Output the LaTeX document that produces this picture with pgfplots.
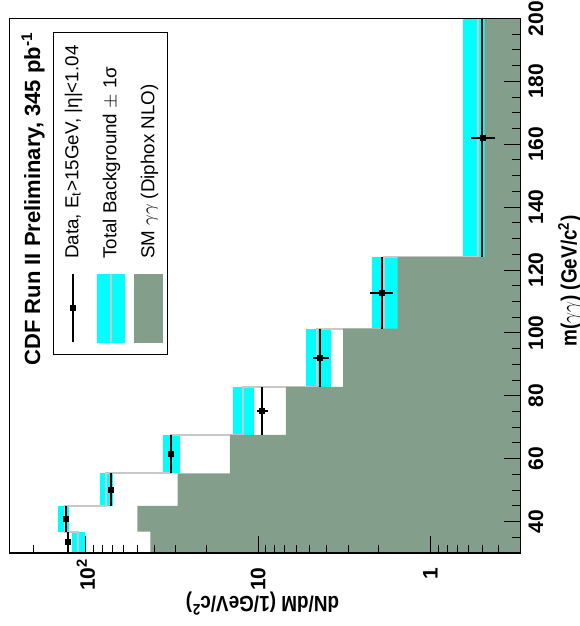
\documentclass[border=0pt]{standalone}
\usepackage{graphicx}
\usepackage{pgfplots}
\pgfplotsset{compat=1.18}
\usepackage{fontspec}
\setmainfont{Liberation Sans}

\definecolor{bandcyan}{RGB}{0,255,255}
\definecolor{smgreen}{RGB}{131,159,140}
\definecolor{bkgline}{RGB}{200,200,200}

% legend key: sample box 34pt wide, 19pt tall, with its caption beside it
\newcommand{\keytext}[1]{%
  \path[draw=none, fill=none] (0pt,-9.5pt) rectangle (34pt,9.5pt);
  \node[anchor=base west, inner sep=0pt, draw=none] at (41.5pt,-2.8pt) {#1};}

\begin{document}
\rotatebox{90}{%
\begin{tikzpicture}
\useasboundingbox (-36.5pt,-29.65pt) rectangle (276.5pt,260.25pt);
\begin{axis}[
  scale only axis, width=267.25pt, height=255.5pt,
  xmin=30, xmax=200,
  ymode=log, ymin=0.3, ymax=277,
  axis on top,
  axis line style={line width=0.75pt},
  tick pos=left, tick align=inside,
  every tick/.style={black, line width=0.5pt},
  major tick length=8.3pt, minor tick length=4.2pt,
  xtick={40,60,...,200},
  minor xtick={35,40,...,195},
  ytick={1,10,100},
  yticklabels={1,10,10\rlap{\textsuperscript{2}}},
  minor ytick={0.3,0.4,0.5,0.6,0.7,0.8,0.9,2,3,4,5,6,7,8,9,20,30,40,50,60,70,80,90,200},
  /pgf/number format/assume math mode=true,
  tick label style={font=\bfseries\fontsize{10.5}{12}\selectfont},
  xticklabel style={inner sep=0pt, anchor=north, yshift=-3.75pt},
  yticklabel style={inner sep=0pt, anchor=east, xshift=-7pt},
  xlabel={\scalebox{0.86}[1]{m($\gamma\gamma$) (GeV/c\textsuperscript{2})}},
  ylabel={\scalebox{0.86}[1]{dN/dM (1/GeV/c\textsuperscript{2})}},
  label style={font=\bfseries\fontsize{11}{13}\selectfont},
  xlabel style={at={(axis description cs:0.509,-0.110)}, anchor=base},
  ylabel style={at={(axis description cs:-0.0823,0.505)}, anchor=base},
  legend cell align=left,
  legend style={at={(rel axis cs:0.9742,0.9143)}, anchor=north east,
    draw=black, line width=0.5pt, inner xsep=5.35pt, inner ysep=0pt,
    font=\fontsize{9.4}{11}\selectfont, row sep=0pt, column sep=0pt,
    nodes={inner sep=0pt}},
]
% legend entries
\addlegendimage{legend image code/.code={
  \keytext{Data, E\textsubscript{t}>15GeV, |η|<1.04}
  \draw[black, line width=1pt] (0pt,0pt) -- (34pt,0pt);
  \fill[black] (15.75pt,-1.25pt) rectangle (18.25pt,1.25pt);}}
\addlegendentry{\relax}
\addlegendimage{legend image code/.code={
  \keytext{Total Background $\pm$ 1σ}
  \fill[bandcyan] (0pt,-6.75pt) rectangle (34pt,6.75pt);
  \draw[bkgline, line width=0.8pt] (0pt,0pt) -- (34pt,0pt);}}
\addlegendentry{\relax}
\addlegendimage{legend image code/.code={
  \keytext{SM $\gamma\gamma$ (Diphox NLO)}
  \fill[smgreen] (0pt,-7pt) rectangle (34pt,7pt);}}
\addlegendentry{\relax}

% total background +/- 1 sigma band, one box per bin
\addplot[forget plot, fill=bandcyan, draw=none] coordinates {(30,101.2) (36.8,101.2) (36.8,120) (30,120)} -- cycle;
\addplot[forget plot, fill=bandcyan, draw=none] coordinates {(36.8,124.9) (45,124.9) (45,144.5) (36.8,144.5)} -- cycle;
\addplot[forget plot, fill=bandcyan, draw=none] coordinates {(45,69.6) (55.3,69.6) (55.3,82.8) (45,82.8)} -- cycle;
\addplot[forget plot, fill=bandcyan, draw=none] coordinates {(55.3,28.5) (67.6,28.5) (67.6,35.6) (55.3,35.6)} -- cycle;
\addplot[forget plot, fill=bandcyan, draw=none] coordinates {(67.6,10.6) (82.8,10.6) (82.8,14.0) (67.6,14.0)} -- cycle;
\addplot[forget plot, fill=bandcyan, draw=none] coordinates {(82.8,3.75) (101.4,3.75) (101.4,5.28) (82.8,5.28)} -- cycle;
\addplot[forget plot, fill=bandcyan, draw=none] coordinates {(101.4,1.55) (124.1,1.55) (124.1,2.19) (101.4,2.19)} -- cycle;
\addplot[forget plot, fill=bandcyan, draw=none] coordinates {(124.1,0.484) (200,0.484) (200,0.647) (124.1,0.647)} -- cycle;

% total background, central value
\addplot[forget plot, const plot, bkgline, line width=1pt] coordinates {
  (30,110.7) (36.8,132.2) (45,76.0) (55.3,31.8) (67.6,12.3)
  (82.8,4.58) (101.4,1.86) (124.1,0.53) (200,0.53)};

% SM diphoton (Diphox NLO)
\addplot[forget plot, const plot, fill=smgreen, draw=none] coordinates {
  (30,0.3) (30,42.1) (36.8,50.1) (45,29.3) (55.3,14.6) (67.6,6.9)
  (82.8,3.21) (101.4,1.55) (124.1,0.484) (200,0.484) (200,0.3)} -- cycle;

% data
\addplot[forget plot, black, only marks, mark=square*, mark size=1.25pt,
  error bars/.cd, x dir=both, x explicit, y dir=both, y explicit,
  error mark=none, error bar style={line width=1pt, black}]
  coordinates {
  (33.4,126.5) +- (3.4,3.8)
  (40.9,130.4) +- (4.1,3.9)
  (50.15,71.5) +- (5.15,2.5)
  (61.45,32.2) +- (6.15,1.3)
  (75.2,9.48) += (7.6,0.72) -= (7.6,0.73)
  (92.1,4.35) += (9.3,0.48) -= (9.3,0.48)
  (112.75,1.91) += (11.35,0.32) -= (11.35,0.26)
  (162.05,0.499) += (37.95,0.079) -= (37.95,0.075)};

\node[anchor=base east, font=\bfseries\fontsize{11}{13}\selectfont]
  at (rel axis cs:0.9878,0.9403) {CDF Run II Preliminary, 345 pb\textsuperscript{-1}};
\end{axis}
\end{tikzpicture}}
\end{document}
